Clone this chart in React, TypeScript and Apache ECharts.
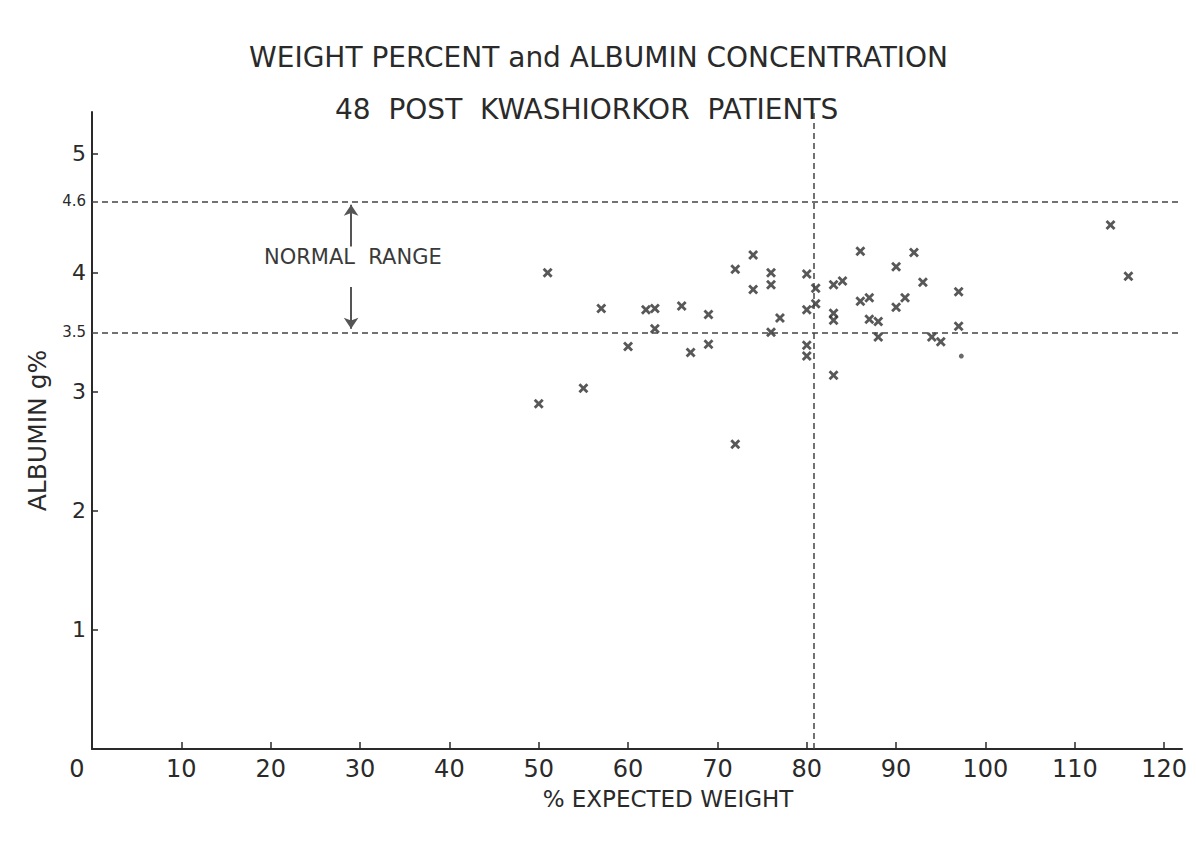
import React, { useEffect, useRef } from "react";
import * as echarts from "echarts";

const titleLine1 = "WEIGHT PERCENT and ALBUMIN CONCENTRATION";
const titleLine2 = "48  POST  KWASHIORKOR  PATIENTS";
const xName = "% EXPECTED WEIGHT";
const yName = "ALBUMIN g%";

const weightPct = [50, 51, 55, 57, 60, 62, 63, 63, 66, 67, 69, 69, 72, 72, 74, 74, 76, 76, 76, 77, 80, 80, 80, 80, 81, 81, 83, 84, 83, 83, 83, 86, 86, 87, 87, 88, 88, 90, 90, 91, 92, 93, 94, 95, 97, 97, 114, 116];
const albumin = [2.9, 4.0, 3.03, 3.7, 3.38, 3.69, 3.7, 3.53, 3.72, 3.33, 3.65, 3.4, 4.03, 2.56, 4.15, 3.86, 4.0, 3.9, 3.5, 3.62, 3.99, 3.69, 3.39, 3.3, 3.87, 3.74, 3.9, 3.93, 3.66, 3.6, 3.14, 4.18, 3.76, 3.79, 3.61, 3.59, 3.46, 4.05, 3.71, 3.79, 4.17, 3.92, 3.46, 3.42, 3.84, 3.55, 4.4, 3.97];

// a stray dot in the original plot
const dotWeight = [97.3];
const dotAlbumin = [3.3];

const xTicks = [10, 20, 30, 40, 50, 60, 70, 80, 90, 100, 110, 120];
const xLabels = [0, 10, 20, 30, 40, 50, 60, 70, 80, 90, 100, 110, 120];
const yTicks = [1, 2, 3, 4, 5];
const yLabels = [1, 2, 3, 3.5, 4, 4.6, 5];

const normalLow = 3.5;
const normalHigh = 4.6;
const weightCutoff = 80.8;
const normalRangeLabel = "NORMAL  RANGE";
const arrowX = 29;

const FONT = "DejaVu Sans";
const INK = "#2a2a2a";
const CROSS = "path://M0,2L2,0L5,3L8,0L10,2L7,5L10,8L8,10L5,7L2,10L0,8L3,5Z";

export default function App() {
  const ref = useRef<HTMLDivElement>(null);
  useEffect(() => {
    if (!ref.current) return;
    const chart = echarts.init(ref.current, null, { renderer: "svg" });
    const points = weightPct.map((w, i) => [w, albumin[i]]);
    const dots = dotWeight.map((w, i) => [w, dotAlbumin[i]]);
    chart.setOption({
      animation: false,
      backgroundColor: "#ffffff",
      title: [
        {
          text: titleLine1,
          left: 244,
          top: 38,
          textStyle: { fontFamily: FONT, fontSize: 28, fontWeight: "normal", color: INK },
        },
        {
          text: titleLine2,
          left: 330,
          top: 90,
          textStyle: { fontFamily: FONT, fontSize: 28, fontWeight: "normal", color: INK },
        },
      ],
      grid: { left: 92, right: 14, top: 112, bottom: 98 },
      xAxis: {
        type: "value",
        min: 0,
        max: 122,
        name: xName,
        nameLocation: "middle",
        nameGap: 38,
        nameTextStyle: { fontFamily: FONT, fontSize: 23, color: INK, padding: [0, 0, 0, 62] },
        axisLine: { show: true, onZero: false, lineStyle: { color: INK, width: 2 } },
        axisTick: { show: true, inside: true, length: 7, customValues: xTicks, lineStyle: { color: INK, width: 1.5 } },
        axisLabel: {
          customValues: xLabels,
          margin: 8,
          fontFamily: FONT,
          fontSize: 24,
          color: INK,
          formatter: (v: number) => (v === 0 ? "{z|0}" : String(v)),
          rich: { z: { fontFamily: FONT, fontSize: 24, color: INK, padding: [0, 30, 0, 0] } },
        },
        splitLine: { show: false },
      },
      yAxis: {
        type: "value",
        min: 0,
        max: 5.35,
        name: yName,
        nameLocation: "middle",
        nameGap: 42,
        nameTextStyle: { fontFamily: FONT, fontSize: 25, color: INK },
        axisLine: { show: true, onZero: false, lineStyle: { color: INK, width: 2 } },
        axisTick: { show: true, inside: true, length: 6, customValues: yTicks, lineStyle: { color: INK, width: 1.5 } },
        axisLabel: {
          customValues: yLabels,
          margin: 6,
          fontFamily: FONT,
          fontSize: 22,
          color: INK,
          formatter: (v: number) => (Number.isInteger(v) ? String(v) : "{s|" + v + "}"),
          rich: { s: { fontFamily: FONT, fontSize: 15, color: INK } },
        },
        splitLine: { show: false },
      },
      graphic: [
        {
          type: "text",
          left: 264,
          top: 246,
          style: { text: normalRangeLabel, font: "21px 'DejaVu Sans'", fill: "#3a3a3a" },
        },
      ],
      series: [
        {
          type: "scatter",
          data: points,
          symbol: CROSS,
          symbolSize: 10,
          itemStyle: { color: "#2e2e2e" },
          silent: true,
          markLine: {
            silent: true,
            symbol: "none",
            label: { show: false },
            lineStyle: { color: "#444", type: [6, 4], width: 1.5 },
            data: [{ yAxis: normalHigh }, { yAxis: normalLow }, { xAxis: weightCutoff }],
          },
        },
        {
          type: "scatter",
          data: dots,
          symbol: "circle",
          symbolSize: 5,
          itemStyle: { color: "#444" },
          silent: true,
        },
        {
          type: "line",
          data: [],
          silent: true,
          markLine: {
            silent: true,
            symbolSize: 11,
            label: { show: false },
            lineStyle: { color: "#555", type: "solid", width: 2 },
            data: [
              [
                { coord: [arrowX, 4.22], symbol: "none" },
                { coord: [arrowX, normalHigh - 0.03], symbol: "arrow" },
              ],
              [
                { coord: [arrowX, 3.88], symbol: "none" },
                { coord: [arrowX, normalLow + 0.03], symbol: "arrow" },
              ],
            ],
          },
        },
      ],
    });
    return () => chart.dispose();
  }, []);
  return (
    <div
      ref={ref}
      style={{ position: "fixed", left: 0, top: 0, width: 1196, height: 847, background: "#fff" }}
    />
  );
}
